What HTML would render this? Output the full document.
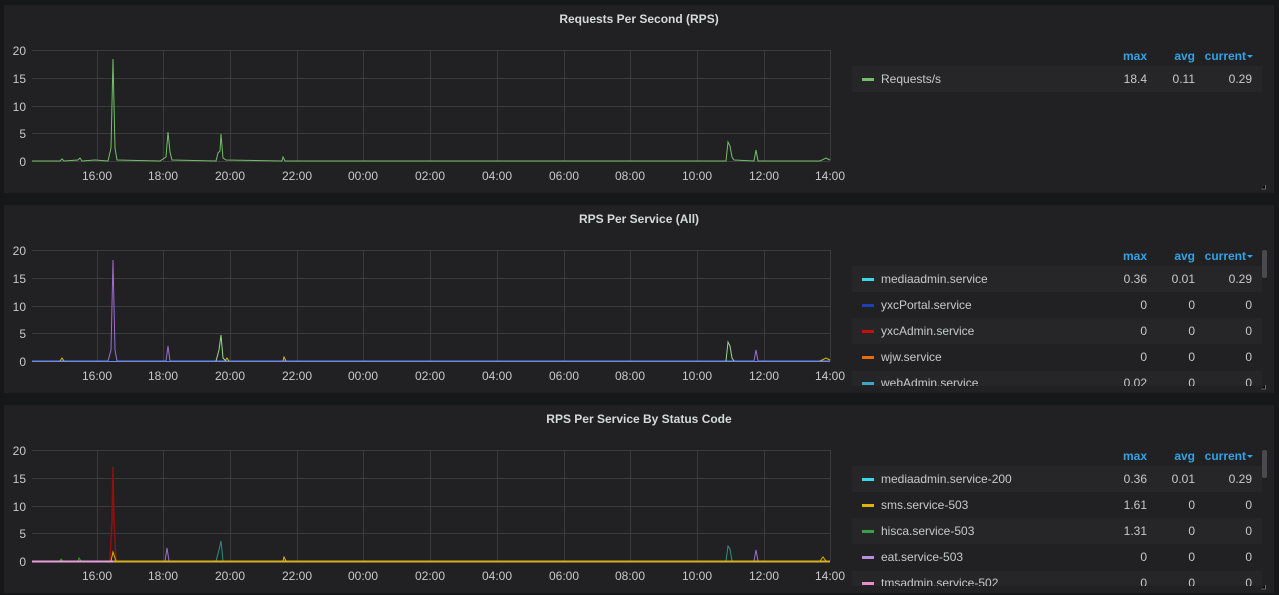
<!DOCTYPE html>
<html><head><meta charset="utf-8"><style>
body{margin:0;background:#161719;width:1279px;height:595px;overflow:hidden;font-family:"Liberation Sans",sans-serif}
svg{display:block}
</style></head><body>
<svg width="1279" height="595" xmlns="http://www.w3.org/2000/svg" font-family="Liberation Sans, sans-serif">
<defs>
<g id="grid" stroke="#3b3b3e" stroke-width="1">
<line x1="32" x2="830" y1="50.5" y2="50.5"/><line x1="32" x2="830" y1="78.5" y2="78.5"/><line x1="32" x2="830" y1="106.5" y2="106.5"/><line x1="32" x2="830" y1="133.5" y2="133.5"/><line x1="32" x2="830" y1="161.5" y2="161.5"/>
<line x1="97.5" x2="97.5" y1="50" y2="161"/><line x1="163.5" x2="163.5" y1="50" y2="161"/><line x1="230.5" x2="230.5" y1="50" y2="161"/><line x1="297.5" x2="297.5" y1="50" y2="161"/><line x1="363.5" x2="363.5" y1="50" y2="161"/><line x1="430.5" x2="430.5" y1="50" y2="161"/><line x1="497.5" x2="497.5" y1="50" y2="161"/><line x1="564.5" x2="564.5" y1="50" y2="161"/><line x1="630.5" x2="630.5" y1="50" y2="161"/><line x1="697.5" x2="697.5" y1="50" y2="161"/><line x1="764.5" x2="764.5" y1="50" y2="161"/><line x1="830.5" x2="830.5" y1="50" y2="161"/>
</g>
<g id="ax" fill="#c8c9ca" font-size="12">
<g text-anchor="end"><text x="26" y="55">20</text><text x="26" y="83">15</text><text x="26" y="111">10</text><text x="26" y="138">5</text><text x="26" y="166">0</text></g>
<g text-anchor="middle"><text x="97" y="180">16:00</text><text x="163" y="180">18:00</text><text x="230" y="180">20:00</text><text x="297" y="180">22:00</text><text x="363" y="180">00:00</text><text x="430" y="180">02:00</text><text x="497" y="180">04:00</text><text x="564" y="180">06:00</text><text x="630" y="180">08:00</text><text x="697" y="180">10:00</text><text x="764" y="180">12:00</text><text x="830" y="180">14:00</text></g>
</g>
<g id="lh" fill="#33a2e5" font-size="12" font-weight="bold" text-anchor="end"><text x="1147" y="60">max</text><text x="1195" y="60">avg</text><text x="1246" y="60">current</text><path d="M1247 55h6l-3 3z"/></g>
</defs>

<!-- Panel 1 -->
<rect x="4" y="5" width="1270" height="188" fill="#212124"/>
<text x="639" y="23" fill="#d8d9da" font-size="12" font-weight="bold" text-anchor="middle">Requests Per Second (RPS)</text>
<use href="#grid"/><use href="#ax"/>
<path fill="none" stroke="#73bf69" stroke-width="1" d="M32 161 L60 161 L62 159 L64 161 L78 160 L80 158 L82 161 L95 160 L108 161 L111 148 L113 59 L115 148 L117 160 L160 161 L166 157 L168 132 L170 152 L172 160 L216 161 L218 153 L220 151 L221 134 L223 158 L226 160 L282 161 L283 157 L285 161 L700 161 L726 161 L728 142 L730 146 L732 157 L734 160 L754 161 L756 150 L758 161 L820 161 L826 158 L830 160"/>
<use href="#lh"/>
<rect x="852" y="66" width="410" height="26" fill="#262629"/>
<rect x="862" y="78" width="12" height="3" fill="#73bf69"/>
<g fill="#c8c9ca" font-size="12"><text x="881" y="83">Requests/s</text><g text-anchor="end"><text x="1147" y="83">18.4</text><text x="1195" y="83">0.11</text><text x="1252" y="83">0.29</text></g></g>

<!-- Panel 2 -->
<rect x="4" y="205" width="1270" height="188" fill="#212124"/>
<text x="639" y="223" fill="#d8d9da" font-size="12" font-weight="bold" text-anchor="middle">RPS Per Service (All)</text>
<g transform="translate(0,200)"><use href="#grid"/><use href="#ax"/><use href="#lh"/></g>
<path fill="none" stroke="#9c6ecf" stroke-width="1" d="M32 361 L108 361 L111 350 L113 260 L115 350 L117 361 L166 361 L168 346 L170 361 L754 361 L756 350 L758 361 L830 361"/>
<path fill="none" stroke="#96d98d" stroke-width="1" d="M216 361 L219 350 L221 335 L223 358 L226 361 M726 361 L728 342 L730 346 L732 358 L734 361"/>
<path fill="none" stroke="#e0b400" stroke-width="1" d="M60 361 L62 358 L64 361 M225 361 L227 358 L229 361 M283 361 L284 357 L286 361 M820 361 L826 358 L830 360"/>
<path fill="none" stroke="#5794f2" stroke-width="1" d="M32 361.5 L830 361.5"/>
<rect x="852" y="266" width="410" height="26" fill="#262629"/><rect x="852" y="318" width="410" height="26" fill="#262629"/>
<g font-size="12" fill="#c8c9ca">
<rect x="862" y="278" width="12" height="3" fill="#37d7ea"/><text x="881" y="283">mediaadmin.service</text>
<rect x="862" y="304" width="12" height="3" fill="#1f3fb0"/><text x="881" y="309">yxcPortal.service</text>
<rect x="862" y="330" width="12" height="3" fill="#c40f0f"/><text x="881" y="335">yxcAdmin.service</text>
<rect x="862" y="356" width="12" height="3" fill="#e56d0e"/><text x="881" y="361">wjw.service</text>
<g text-anchor="end"><text x="1147" y="283">0.36</text><text x="1195" y="283">0.01</text><text x="1252" y="283">0.29</text>
<text x="1147" y="309">0</text><text x="1195" y="309">0</text><text x="1252" y="309">0</text>
<text x="1147" y="335">0</text><text x="1195" y="335">0</text><text x="1252" y="335">0</text>
<text x="1147" y="361">0</text><text x="1195" y="361">0</text><text x="1252" y="361">0</text></g>
</g>
<svg x="852" y="371" width="410" height="15" overflow="hidden"><rect width="410" height="15" fill="#262629"/><g font-size="12" fill="#c8c9ca"><rect x="10" y="11" width="12" height="3" fill="#3aa7c9"/><text x="29" y="16">webAdmin.service</text><g text-anchor="end"><text x="295" y="16">0.02</text><text x="343" y="16">0</text><text x="400" y="16">0</text></g></g></svg>
<rect x="1262" y="250" width="5" height="28" rx="2" fill="#4a4a4e"/>

<!-- Panel 3 -->
<rect x="4" y="405" width="1270" height="188" fill="#212124"/>
<text x="639" y="423" fill="#d8d9da" font-size="12" font-weight="bold" text-anchor="middle">RPS Per Service By Status Code</text>
<g transform="translate(0,400)"><use href="#grid"/><use href="#ax"/><use href="#lh"/></g>
<path fill="none" stroke="#8f1010" stroke-width="1.5" d="M110 561 L112 520 L113 467 L114 520 L116 561"/>
<path fill="none" stroke="#9c6ecf" stroke-width="1" d="M165 561 L167 548 L169 561 M754 561 L756 550 L758 561"/>
<path fill="none" stroke="#2f8f7f" stroke-width="1" d="M216 561 L219 550 L221 541 L223 561 M726 561 L728 546 L730 549 L732 561"/>
<path fill="none" stroke="#e0b400" stroke-width="1" d="M111 561 L113 552 L116 561 M283 561 L284 557 L286 561 M820 561 L823 557 L826 561"/>
<path fill="none" stroke="#1ab000" stroke-width="1" d="M60 561 L61 559 L63 561 M78 561 L79 558 L81 561"/>
<path fill="none" stroke="#e8a0d8" stroke-width="2" d="M32 561.5 L113 561.5"/>
<path fill="none" stroke="#d8b020" stroke-width="2" d="M113 561.5 L830 561.5"/>
<rect x="852" y="466" width="410" height="26" fill="#262629"/><rect x="852" y="518" width="410" height="26" fill="#262629"/>
<g font-size="12" fill="#c8c9ca">
<rect x="862" y="478" width="12" height="3" fill="#37d7ea"/><text x="881" y="483">mediaadmin.service-200</text>
<rect x="862" y="504" width="12" height="3" fill="#e0b400"/><text x="881" y="509">sms.service-503</text>
<rect x="862" y="530" width="12" height="3" fill="#37a14a"/><text x="881" y="535">hisca.service-503</text>
<rect x="862" y="556" width="12" height="3" fill="#b88ee0"/><text x="881" y="561">eat.service-503</text>
<g text-anchor="end"><text x="1147" y="483">0.36</text><text x="1195" y="483">0.01</text><text x="1252" y="483">0.29</text>
<text x="1147" y="509">1.61</text><text x="1195" y="509">0</text><text x="1252" y="509">0</text>
<text x="1147" y="535">1.31</text><text x="1195" y="535">0</text><text x="1252" y="535">0</text>
<text x="1147" y="561">0</text><text x="1195" y="561">0</text><text x="1252" y="561">0</text></g>
</g>
<svg x="852" y="571" width="410" height="15" overflow="hidden"><rect width="410" height="15" fill="#262629"/><g font-size="12" fill="#c8c9ca"><rect x="10" y="11" width="12" height="3" fill="#e88ec8"/><text x="29" y="16">tmsadmin.service-502</text><g text-anchor="end"><text x="295" y="16">0</text><text x="343" y="16">0</text><text x="400" y="16">0</text></g></g></svg>
<rect x="1262" y="450" width="5" height="28" rx="2" fill="#4a4a4e"/>

<g stroke="#6a6a6e" stroke-width="1"><path d="M1265.5 185v4h-4M1265.5 385v4h-4M1265.5 585v4h-4"/></g>
</svg>
</body></html>
